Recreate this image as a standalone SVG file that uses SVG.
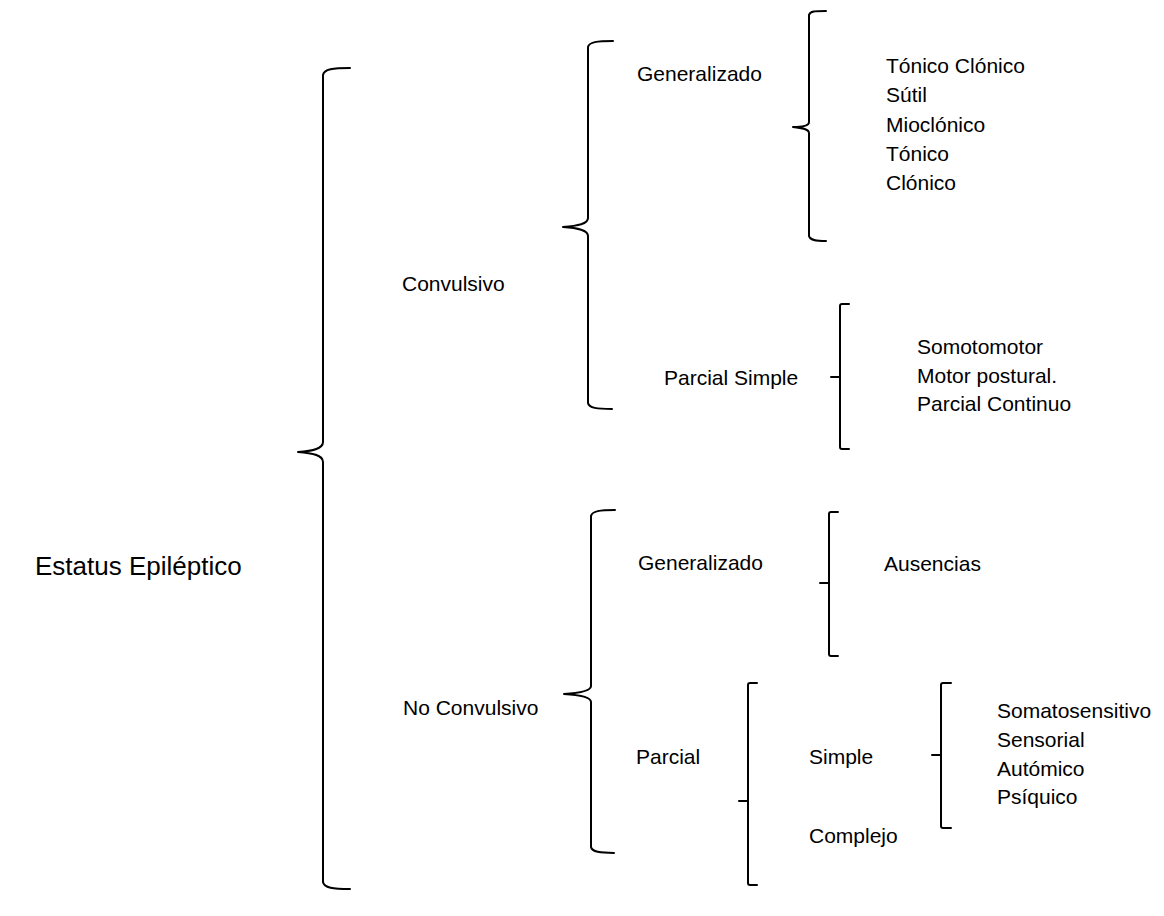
<svg xmlns="http://www.w3.org/2000/svg" width="1164" height="916" viewBox="0 0 1164 916">
<style>
.b{fill:none;stroke:#000;stroke-width:2;stroke-linecap:round;stroke-linejoin:round}
text{font-family:"Liberation Sans",Arial,sans-serif;font-size:21px;fill:#000}
.big{font-size:26px}
</style>
<rect width="1164" height="916" fill="#fff"/>
<g id="connectors">
<path class="b" d="M350 68 C333 68 324 69 323 75 V442 C323 449 312 451 298 452 C312 453 323 455 323 462 V882 C324 888 333 889 350 889"/>
<path class="b" d="M613 41 C597 41 589 42 588 47 V218 C588 224 578 226 563 227 C578 228 588 230 588 236 V403 C589 408 597 409 612 409"/>
<path class="b" d="M826 11 C815 11 810 11 809 15 V122 C809 126 803 127 793 127 C803 128 809 129 809 133 V236 C810 240 815 241 826 241"/>
<path class="b" d="M849 304 H842 Q840 304 840 306 V377 M831 377 H840 V447 Q840 449 842 449 H849"/>
<path class="b" d="M615 510 C600 510 592 511 591 516 V686 C591 691 580 693 564 694 C580 695 591 697 591 702 V847 C592 852 600 853 614 853"/>
<path class="b" d="M838 512 H831 Q829 512 829 514 V583 M820 583 H829 V654 Q829 656 831 656 H838"/>
<path class="b" d="M757 683 H750 Q748 683 748 685 V801 M739 801 H748 V883 Q748 885 750 885 H757"/>
<path class="b" d="M951 683 H943 Q941 683 941 685 V755 M932 755 H941 V826 Q941 828 943 828 H951"/>
</g>
<g id="root"><text class="big" x="35" y="575">Estatus Epiléptico</text></g>
<g id="convulsivo"><text x="402" y="291">Convulsivo</text></g>
<g id="conv-generalizado"><text x="637" y="81">Generalizado</text></g>
<g id="conv-gen-tipos">
<text x="886" y="73">Tónico Clónico</text>
<text x="886" y="102">Sútil</text>
<text x="886" y="132">Mioclónico</text>
<text x="886" y="161">Tónico</text>
<text x="886" y="190">Clónico</text>
</g>
<g id="parcial-simple"><text x="664" y="385">Parcial Simple</text></g>
<g id="parcial-simple-tipos">
<text x="917" y="354">Somotomotor</text>
<text x="917" y="383">Motor postural.</text>
<text x="917" y="411">Parcial Continuo</text>
</g>
<g id="no-convulsivo"><text x="403" y="715">No Convulsivo</text></g>
<g id="nc-generalizado"><text x="638" y="570">Generalizado</text></g>
<g id="ausencias"><text x="884" y="571">Ausencias</text></g>
<g id="nc-parcial"><text x="636" y="764">Parcial</text></g>
<g id="simple"><text x="809" y="764">Simple</text></g>
<g id="simple-tipos">
<text x="997" y="718">Somatosensitivo</text>
<text x="997" y="747">Sensorial</text>
<text x="997" y="776">Autómico</text>
<text x="997" y="804">Psíquico</text>
</g>
<g id="complejo"><text x="809" y="843">Complejo</text></g>
</svg>
